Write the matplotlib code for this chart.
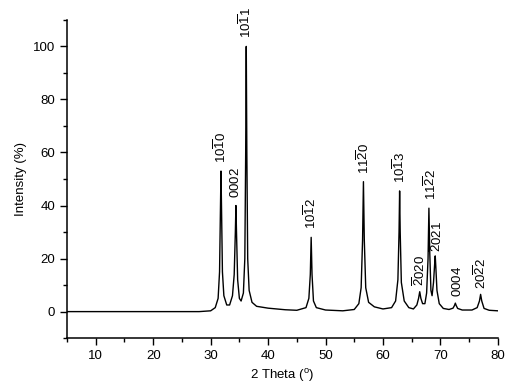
import matplotlib
matplotlib.use("Agg")
import matplotlib.pyplot as plt
from matplotlib.ticker import MultipleLocator

plt.rcParams['font.family'] = ['Liberation Sans', 'DejaVu Sans']
plt.rcParams['mathtext.fontset'] = 'custom'
plt.rcParams['mathtext.rm'] = 'Liberation Sans'
plt.rcParams['mathtext.it'] = 'Liberation Sans:italic'

# XRD pattern
two_theta = [5, 10, 20, 28, 30, 30.8, 31.3, 31.55, 31.7, 31.8, 31.9, 32.05, 32.3, 32.8,
             33.3, 33.8, 34.1, 34.3, 34.4, 34.5, 34.7, 35.0, 35.3, 35.7, 35.95, 36.1,
             36.2, 36.3, 36.45, 36.7, 37.2, 38, 40, 43, 45, 46.6, 47.1, 47.35, 47.5,
             47.65, 47.9, 48.4, 50, 53, 55, 55.8, 56.2, 56.45, 56.6, 56.75, 57.0, 57.5,
             58.5, 60, 61.5, 62.2, 62.6, 62.8, 62.9, 63.0, 63.2, 63.7, 64.5, 65.3, 65.9,
             66.2, 66.4, 66.6, 66.9, 67.3, 67.6, 67.85, 68.0, 68.15, 68.35, 68.55, 68.8,
             69.0, 69.1, 69.2, 69.4, 69.8, 70.5, 71.5, 72.2, 72.45, 72.6, 72.75, 73.0,
             73.8, 75.5, 76.4, 76.8, 77.0, 77.2, 77.6, 78.5, 80]
intensity = [0, 0, 0, 0, 0.3, 1.5, 5, 15, 38, 53, 38, 15, 6, 2.5,
             2.5, 6, 14, 30, 40, 30, 12, 5, 4, 7, 20, 60,
             100, 60, 20, 8, 3.5, 2, 1.3, 0.7, 0.5, 1.5, 5, 14, 28,
             14, 4, 1.5, 0.6, 0.3, 0.8, 3, 9, 27, 49, 27, 9, 3.5,
             1.8, 1, 1.5, 4, 12, 30, 45.5, 30, 11, 4, 1.5, 1, 2.5,
             5, 7.5, 5, 3, 3, 7, 20, 39, 22, 8, 6, 11,
             18, 21, 17, 8, 3, 1.2, 0.8, 1.3, 2.3, 3.2, 2.3, 1.2,
             0.6, 0.6, 1.5, 4, 6.5, 4, 1.2, 0.5, 0.3]

# reflection labels
peak_labels = [r'$\mathregular{10\overline{1}0}$', r'$\mathregular{0002}$',
               r'$\mathregular{10\overline{1}1}$', r'$\mathregular{10\overline{1}2}$',
               r'$\mathregular{11\overline{2}0}$', r'$\mathregular{10\overline{1}3}$',
               r'$\mathregular{\overline{2}020}$', r'$\mathregular{11\overline{2}2}$',
               r'$\mathregular{\overline{2}021}$', r'$\mathregular{0004}$',
               r'$\mathregular{20\overline{2}2}$']
label_x = [31.8, 34.4, 36.2, 47.5, 56.6, 62.9, 66.4, 68.3, 69.4, 72.9, 77.1]
label_y = [56, 43, 103, 31, 52, 48.5, 9.5, 42, 22.5, 5.5, 8.5]

fig = plt.figure(figsize=(5.08, 3.9), dpi=100)
ax = fig.add_axes([0.132, 0.133, 0.848, 0.816])

ax.plot(two_theta, intensity, color='black', lw=1.0)

for lab, lx, ly in zip(peak_labels, label_x, label_y):
    ax.text(lx, ly, lab, rotation=90, ha='center', va='bottom', fontsize=9.5)

ax.set_xlim(5, 80)
ax.set_ylim(-10, 110)
ax.xaxis.set_major_locator(MultipleLocator(10))
ax.xaxis.set_minor_locator(MultipleLocator(5))
ax.yaxis.set_major_locator(MultipleLocator(20))
ax.yaxis.set_minor_locator(MultipleLocator(10))
ax.set_yticks([0, 20, 40, 60, 80, 100])
ax.tick_params(which='major', direction='out', length=5, width=1, labelsize=9.5)
ax.tick_params(which='minor', direction='out', length=3, width=1)

for s in ['top', 'right']:
    ax.spines[s].set_visible(False)
for s in ['left', 'bottom']:
    ax.spines[s].set_linewidth(1.1)

ax.set_xlabel(r'2 Theta ($^\mathregular{o}$)', fontsize=9.5)
ax.set_ylabel('Intensity (%)', fontsize=9.5)

fig.savefig('out.png', dpi=100)
